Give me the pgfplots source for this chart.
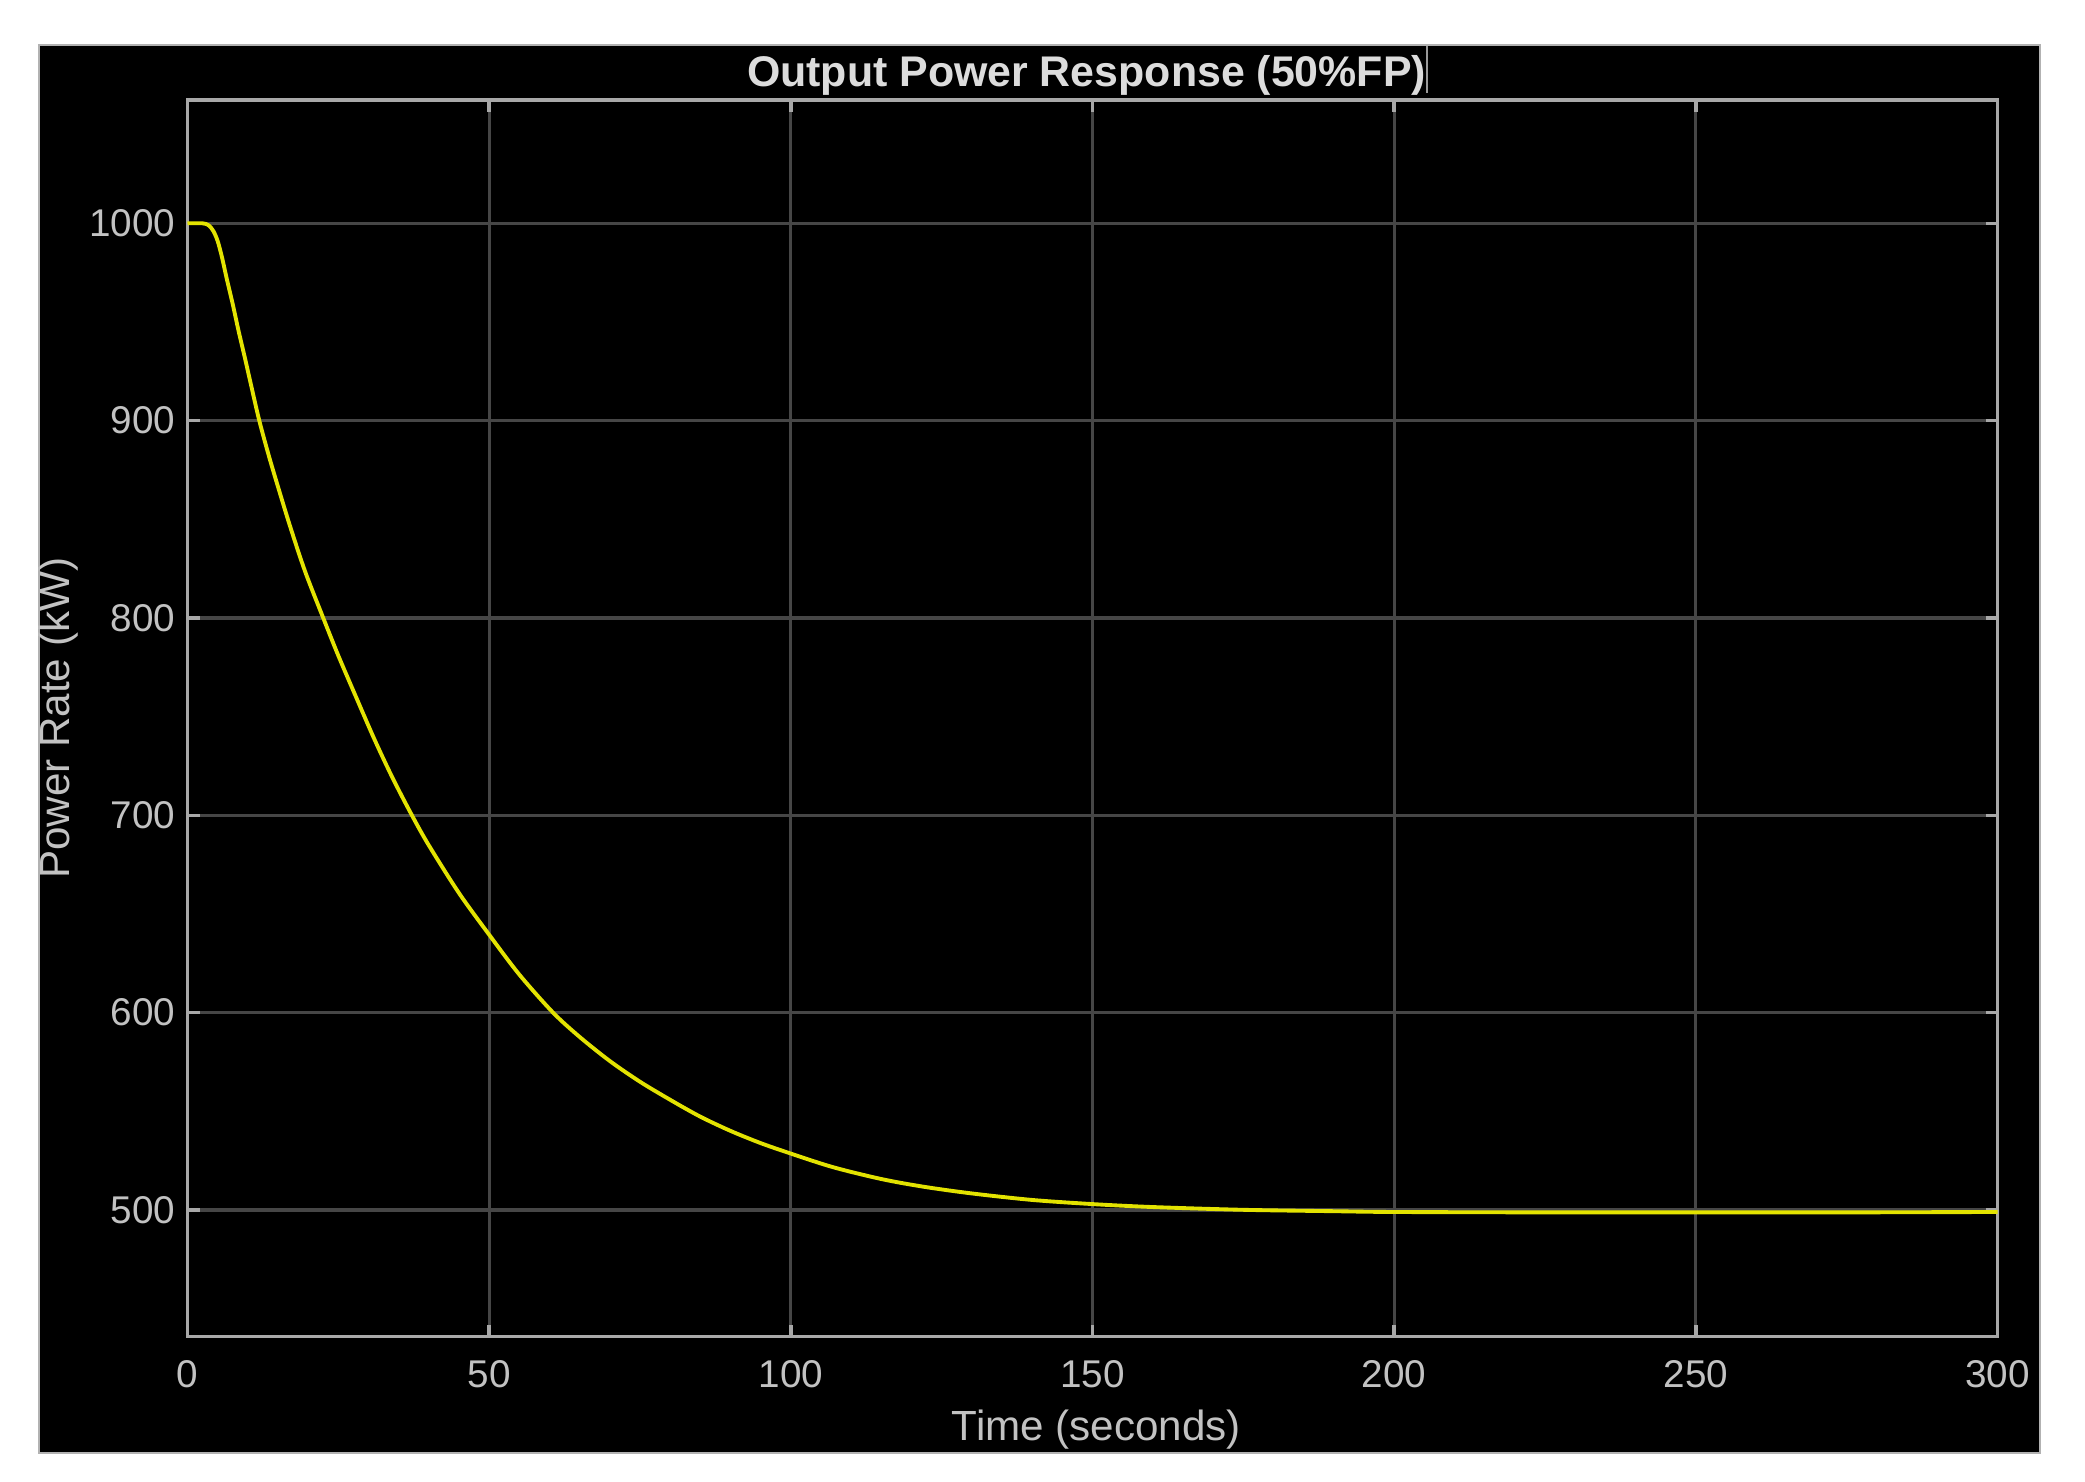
\documentclass[border=0pt]{standalone}
\usepackage{fontspec}
\setmainfont{Liberation Sans}
\usepackage{pgfplots}
\pgfplotsset{compat=1.18}
\definecolor{gridc}{HTML}{464646}
\definecolor{axc}{HTML}{A8A8A8}
\definecolor{txtc}{HTML}{C2C2C2}
\definecolor{titc}{HTML}{DCDCDC}
\definecolor{curve}{HTML}{E3E300}
\begin{document}
\begin{tikzpicture}[x=1cm,y=1cm]
\fill[white] (-1.875,-1.443) rectangle (18.975,13.367);
\useasboundingbox (-1.875,-1.443) rectangle (18.975,13.367);
\filldraw[fill=black, draw=gray!60, line width=0.6pt] (-1.485,-1.163) rectangle (18.525,12.917);
\begin{axis}[at={(0,0)}, anchor=south west, scale only axis,
  width=18.10cm, height=12.367cm,
  xmin=0, xmax=300, ymin=435.8, ymax=1062.5,
  xtick={0,50,...,300}, ytick={500,600,...,1000},
  grid=major, major grid style={gridc, line width=0.9pt},
  axis line style={axc, line width=1pt},
  tick style={axc, line width=1pt}, tick align=inside, major tick length=0.12cm,
  tick pos=both,
  ticklabel style={font=\fontsize{11}{13}\selectfont, text=txtc},
  /pgf/number format/assume math mode=true,
  /pgf/number format/1000 sep={},
  xticklabel style={yshift=-0.11cm},
  title={Output Power Response (50\%FP)},
  title style={font=\bfseries\fontsize{12.2}{14}\selectfont, text=titc,
    at={(axis description cs:0.5,1)}, anchor=base, yshift=-0.08cm, xshift=-0.06cm},
  xlabel={Time (seconds)},
  xlabel style={font=\fontsize{12}{14}\selectfont, text=txtc,
    at={(axis description cs:0.5,0)}, anchor=center, yshift=-0.93cm, xshift=0.04cm},
  ylabel={Power Rate (kW)},
  ylabel style={font=\fontsize{12}{14}\selectfont, text=txtc,
    at={(axis description cs:0,0.5)}, anchor=center, yshift=1.29cm},
]
\addplot[curve, line width=1.1pt, smooth, tension=0.5] table {
t v
0 1000
2.5 1000
3.5 999
4.3 996
5 991
5.7 983
6.5 972
7.5 959
8.5 945
9.5 932
10.5 918.5
11.9 900
13.5 882
15 866.5
17 846.5
19.5 823.5
22.5 800
25 780.9
28 759.5
31 738.4
34 718.9
37.2 700
40 684.8
45 660.6
50 639.5
55 619.3
60.6 600
65 587.7
70 575.5
75 565.0
80.2 555.5
85 547.3
90 540.1
95 533.9
100 528.6
107 521.7
115 515.7
122 511.8
130 508.4
140 505.1
150 503.0
160 501.5
175 500.1
190 499.4
200 499.0
225 498.8
250 498.8
275 498.8
300 499
};
\end{axis}
\draw[gray!80, line width=0.8pt] (12.395,12.907) -- (12.395,12.437);
\end{tikzpicture}
\end{document}
